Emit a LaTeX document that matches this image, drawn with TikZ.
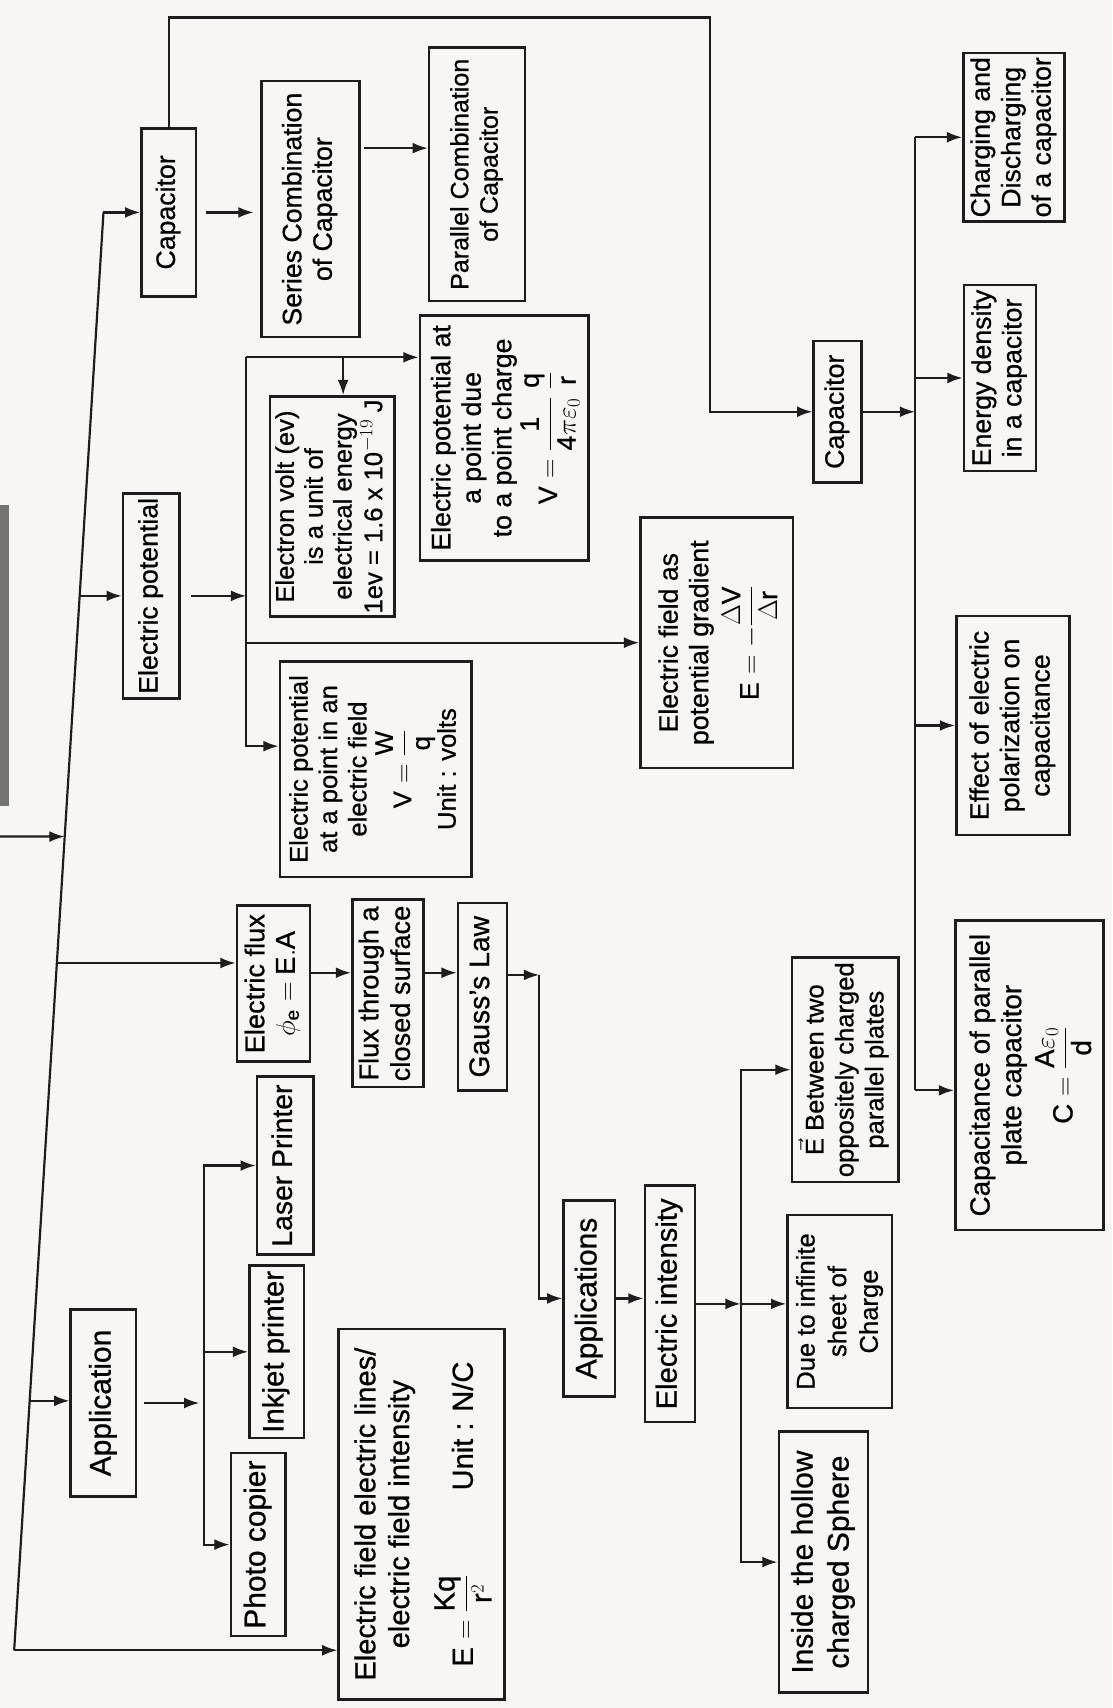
\documentclass[tikz,border=0pt]{standalone}
\usepackage{fontspec}
\setmainfont{Liberation Sans}[FakeBold=0.7]
\usepackage{amsmath}
\usepackage{graphicx}
\usetikzlibrary{arrows.meta}
\definecolor{paper}{RGB}{248,246,244}
\definecolor{ink}{RGB}{30,28,28}
\newcommand{\vt}[1]{\rotatebox{90}{\begin{tabular}{@{}c@{}}#1\end{tabular}}}

\begin{document}
\begin{tikzpicture}[
  x=1pt, y=-1pt,
  font=\fontsize{24.5}{28}\selectfont,
  box/.style={draw=ink, line width=2.4pt, inner sep=1pt, align=center},
  big/.style={font=\fontsize{27.5}{33}\selectfont},
  ln/.style={draw=ink, line width=2pt},
  arr/.style={ln, -{Latex[length=14pt,width=10pt]}}
]
\fill[paper] (0,0) rectangle (1021,1568);
\useasboundingbox (0,0) rectangle (1021,1568);
\fill[black!55] (0,464) rectangle (8,740);

%% Capacitor branch
\node[box, minimum width=50, minimum height=154] (cap1) at (155,195) {\vt{Capacitor}};
\node[box, minimum width=90, minimum height=235] (series) at (285,192) {\vt{Series Combination\\of Capacitor}};
\node[box, minimum width=88, minimum height=233,
      font=\fontsize{23}{27}\selectfont] (parallel) at (438,160) {\vt{Parallel Combination\\of Capacitor}};
\node[box, minimum width=44, minimum height=130] (cap2) at (769,378) {\vt{Capacitor}};
\node[box, minimum width=93, minimum height=155] (charging) at (931,126) {\vt{Charging and\\Discharging\\of a capacitor}};
\node[box, minimum width=66, minimum height=171] (energy) at (918,347) {\vt{Energy density\\in a capacitor}};
\node[box, minimum width=104, minimum height=201] (effect) at (930,666) {\vt{Effect of electric\\polarization on\\capacitance}};
\node[box, minimum width=136, minimum height=284,
      font=\fontsize{25.5}{29}\selectfont] (capac) at (945,987)
      {\vt{Capacitance of parallel\\plate capacitor\\[4pt] $\mathrm{C}=\dfrac{\mathrm{A}\varepsilon_0}{\mathrm{d}}$}};

%% Electric potential branch
\node[box, minimum width=52, minimum height=188] (epot) at (139,547) {\vt{Electric potential}};
\node[box, minimum width=114, minimum height=202,
      font=\fontsize{23.5}{26.5}\selectfont] (ev) at (305,465)
      {\vt{Electron volt (ev)\\is a unit of\\electrical energy\\1ev = 1.6 x 10$^{-19}$ J}};
\node[box, minimum width=155, minimum height=225] (eppoint) at (463,402)
      {\vt{Electric potential at\\a point due\\to a point charge\\ $\mathrm{V}=\dfrac{\mathrm{1}}{\mathrm{4}\pi\varepsilon_0}\;\dfrac{\mathrm{q}}{\mathrm{r}}$}};
\node[box, minimum width=176, minimum height=198,
      font=\fontsize{23.5}{27}\selectfont] (epfield) at (345,706)
      {\vt{Electric potential\\at a point in an\\electric field\\ $\mathrm{V}=\dfrac{\mathrm{W}}{\mathrm{q}}$\\Unit : volts}};
\node[box, minimum width=140, minimum height=230] (gradient) at (658,590)
      {\vt{Electric field as\\potential gradient\\[4pt] $\mathrm{E}=-\dfrac{\Delta\mathrm{V}}{\Delta\mathrm{r}}$}};

%% Flux branch
\node[box, minimum width=67, minimum height=143,
      font=\fontsize{25}{28}\selectfont] (flux) at (251,903) {\vt{Electric flux\\$\phi_{\mathrm{e}}=\mathrm{E.A}$}};
\node[box, minimum width=65, minimum height=172,
      font=\fontsize{25}{29}\selectfont] (closed) at (356,912) {\vt{Flux through a\\closed surface}};
\node[box, minimum width=45, minimum height=172,
      font=\fontsize{26}{30}\selectfont] (gauss) at (443,915) {\vt{Gauss's Law}};
\node[box, big, minimum width=47, minimum height=180] (apps) at (541,1192) {\vt{Applications}};
\node[box, minimum width=46, minimum height=217,
      font=\fontsize{26.8}{31}\selectfont] (inten) at (615,1197) {\vt{Electric intensity}};
\node[box, minimum width=98, minimum height=206,
      font=\fontsize{23.5}{27.5}\selectfont] (ebet) at (776,982)
      {\vt{$\vec{\mathrm{E}}$ Between two\\oppositely charged\\parallel plates}};
\node[box, minimum width=96, minimum height=177,
      font=\fontsize{23.5}{29}\selectfont] (infin) at (771,1204) {\vt{Due to infinite\\sheet of\\Charge}};
\node[box, big, minimum width=82, minimum height=240] (hollow) at (756,1434) {\vt{Inside the hollow\\charged Sphere}};

%% Application branch
\node[box, big, minimum width=60, minimum height=172] (appl) at (95,1288) {\vt{Application}};
\node[box, minimum width=52, minimum height=163,
      font=\fontsize{26}{30}\selectfont] (laser) at (262,1070) {\vt{Laser Printer}};
\node[box, minimum width=50, minimum height=158,
      font=\fontsize{27}{31}\selectfont] (inkjet) at (254,1241) {\vt{Inkjet printer}};
\node[box, big, minimum width=50, minimum height=168] (photo) at (237,1418) {\vt{Photo copier}};
\node[box, minimum width=152, minimum height=340,
      font=\fontsize{26.7}{31}\selectfont] (efield) at (387,1390)
      {\vt{Electric field electric lines/\\electric field intensity\\[14pt]
        \makebox[280pt]{$\mathrm{E}=\dfrac{\mathrm{Kq}}{\mathrm{r}^2}$\hfill Unit : N/C}}};

%% Main spine on the left
\coordinate (spTop) at (95,195);
\coordinate (spBot) at (13,1515);
\coordinate (inL)   at (0,768);
\path (spTop) -- (spBot) coordinate[pos=.2667] (sEpot) coordinate[pos=.4341] (sIn)
                         coordinate[pos=.5220] (sFlux) coordinate[pos=.8265] (sAppl);
\draw[ln] (spTop) -- (spBot);
\draw[arr] (inL) -- (sIn);
\draw[arr] (spTop) -- (spTop -| cap1.west);
\draw[arr] (sEpot) -- (sEpot -| epot.west);
\draw[arr] (sFlux) -- (sFlux -| flux.west);
\draw[arr] (sAppl) -- (sAppl -| appl.west);
\draw[arr] (spBot) -- (spBot -| efield.west);

%% Capacitor connectors
\coordinate (topR) at (652,16);
\coordinate (spR)  at (840,0);
\coordinate (capIn) at ([yshift=-14pt]capac.west);
\draw[arr, shorten <=8pt, shorten >=6pt] (cap1.east) -- (cap1.east -| series.west);
\draw[arr, shorten <=3pt] ([yshift=56pt]series.east) -- ([yshift=56pt]series.east -| parallel.west);
\draw[arr] (cap1.north) |- (topR) |- (cap2.west);
\draw[arr] (cap2.east) -- (cap2.east -| spR);
\draw[ln]  (spR |- charging.west) -- (spR |- capIn);
\draw[arr] (spR |- charging.west) -- (charging.west);
\draw[arr] (spR |- energy.west) -- (energy.west);
\draw[arr] (spR |- effect.west) -- (effect.west);
\draw[arr] (spR |- capIn) -- (capIn);

%% Electric potential connectors
\coordinate (bTop) at (226,328);
\coordinate (evIn) at ([xshift=10pt]ev.north);
\coordinate (epIn) at ([yshift=21pt]epfield.west);
\draw[arr, shorten <=9pt] (epot.east) -- (epot.east -| bTop);
\draw[arr] (bTop) |- (epIn);
\draw[arr] (bTop) -- (bTop -| eppoint.west);
\draw[arr] (evIn |- bTop) -- (evIn);
\draw[arr] (bTop |- gradient.west) -- (gradient.west);

%% Flux connectors
\coordinate (rowF) at (0,893);
\coordinate (gC)   at (495,895);
\coordinate (brI)  at (680,0);
\draw[arr] (flux.east |- rowF) -- (closed.west |- rowF);
\draw[arr] (closed.east |- rowF) -- (gauss.west |- rowF);
\draw[arr] (gauss.east |- gC) -- (gC);
\draw[arr] (gC) |- (apps.west);
\draw[arr] (apps.east) -- (apps.east -| inten.west);
\draw[arr] (inten.east) -- (inten.east -| brI);
\draw[arr] (inten.east -| brI) -- (inten.east -| infin.west);
\draw[arr] (inten.east -| brI) |- (ebet.west);
\draw[arr] (inten.east -| brI) |- (hollow.west);

%% Application connectors
\coordinate (brP) at (187,0);
\draw[arr, shorten <=6pt, shorten >=4pt] (appl.east) -- (appl.east -| brP);
\draw[arr] (brP |- appl.east) |- (laser.west);
\draw[arr] (brP |- appl.east) |- (photo.west);
\draw[arr] (brP |- inkjet.west) -- (inkjet.west);

\end{tikzpicture}
\end{document}
